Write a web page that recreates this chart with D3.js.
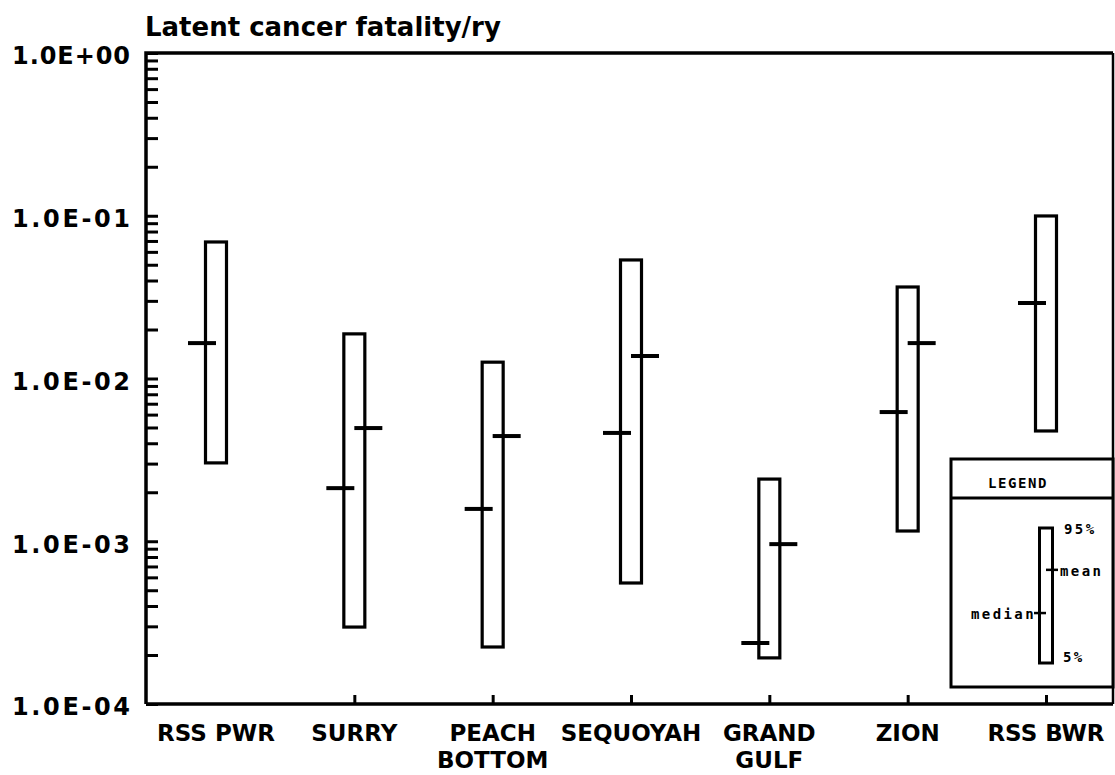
<!DOCTYPE html>
<html>
<head>
<meta charset="utf-8">
<script src="https://cdn.jsdelivr.net/npm/d3@7"></script>
<style>
  html, body { margin: 0; padding: 0; background: #fff; }
  svg { display: block; }
</style>
</head>
<body>
<svg id="chart" width="1115" height="775"></svg>
<script>
// ---- data ----
const categories = ["RSS PWR", "SURRY", "PEACH BOTTOM", "SEQUOYAH", "GRAND GULF", "ZION", "RSS BWR"];
const labelLines = [["RSS PWR"], ["SURRY"], ["PEACH", "BOTTOM"], ["SEQUOYAH"], ["GRAND", "GULF"], ["ZION"], ["RSS BWR"]];
const p95 = [0.069, 0.0188, 0.0126, 0.0535, 0.00241, 0.0365, 0.0997];
const p05 = [0.00303, 0.000297, 0.000224, 0.000554, 0.000192, 0.001156, 0.00476];
const medians = [0.0165, 0.00212, 0.00158, 0.00463, 0.000237, 0.00622, 0.0291];
const means = [null, 0.00496, 0.00443, 0.01375, 0.00096, 0.0165, null];
const majorTicks = [1e-4, 1e-3, 1e-2, 1e-1, 1];
const titleText = "Latent cancer fatality/ry";
const legendTitle = "LEGEND";
const legendLabels = { p95: "95%", mean: "mean", median: "median", p05: "5%" };
// legend sample values (relative positions along the sample bar)
const legendSample = { p95: 1.0, mean: 0.69, median: 0.37, p05: 0.0 };

// ---- layout ----
const svg = d3.select("#chart");
const mLeft = 146, mRight = 1113, mTop = 53, mBottom = 704;
const font = "'DejaVu Sans', sans-serif";
const mono = "'DejaVu Sans Mono', monospace";

const y = d3.scaleLog().domain([1e-4, 1]).range([mBottom, mTop]);
const x = d3.scalePoint().domain(categories).range([216, 1046]);

// minor + major ticks
const allTicks = [];
for (let e = -4; e < 0; e++) {
  for (let m = 1; m < 10; m++) allTicks.push(m * Math.pow(10, e));
}
allTicks.push(1);

function fmtE(v) {
  const e = Math.round(Math.log10(v));
  const sign = e >= 0 ? "+" : "-";
  return "1.0E" + sign + String(Math.abs(e)).padStart(2, "0");
}

// Y axis
const yAxis = d3.axisLeft(y)
  .tickValues(allTicks)
  .tickSize(-12)
  .tickSizeOuter(0)
  .tickPadding(16)
  .tickFormat(v => majorTicks.some(m => Math.abs(m - v) / m < 1e-6) ? fmtE(v) : "");
const gy = svg.append("g").attr("transform", `translate(${mLeft},0)`).call(yAxis);
gy.select(".domain").remove();
gy.selectAll(".tick line").attr("stroke", "#000").attr("stroke-width", 3);
gy.selectAll(".tick text")
  .attr("fill", "#000")
  .attr("font-family", font)
  .attr("font-weight", "bold")
  .attr("font-size", 24)
  .attr("dy", "0.45em")
  .each(function () { if (this.textContent) d3.select(this).attr("textLength", 118).attr("lengthAdjust", "spacing"); });

// X axis ticks (upward)
const xAxis = d3.axisBottom(x).tickSize(-9).tickSizeOuter(0).tickFormat("");
const gx = svg.append("g").attr("transform", `translate(0,${mBottom})`).call(xAxis);
gx.select(".domain").remove();
gx.selectAll(".tick line").attr("stroke", "#000").attr("stroke-width", 3);
gx.selectAll(".tick").filter((d, i) => i === 0).remove();

// frame
svg.append("path")
  .attr("d", `M${mLeft},${mBottom}V${mTop}H${mRight}`)
  .attr("fill", "none").attr("stroke", "#000").attr("stroke-width", 3.5);
svg.append("path")
  .attr("d", `M${mLeft},${mBottom}H${mRight}`)
  .attr("fill", "none").attr("stroke", "#000").attr("stroke-width", 3.5);
svg.append("path")
  .attr("d", `M${mRight},${mTop}V${mBottom}`)
  .attr("fill", "none").attr("stroke", "#000").attr("stroke-width", 2.5);

// title
svg.append("text")
  .attr("x", 145).attr("y", 36)
  .attr("font-family", font).attr("font-weight", "bold").attr("font-size", 26)
  .text(titleText);

// X labels
const xl = svg.append("g");
categories.forEach((c, i) => {
  const t = xl.append("text")
    .attr("x", x(c)).attr("y", 741)
    .attr("text-anchor", "middle")
    .attr("font-family", font).attr("font-weight", "bold").attr("font-size", 23);
  labelLines[i].forEach((ln, j) => {
    t.append("tspan").attr("x", x(c)).attr("dy", j === 0 ? 0 : 27).text(ln);
  });
});

// bars
const barW = 21, tickLen = 28;
const g = svg.append("g");
categories.forEach((c, i) => {
  const cx = x(c);
  g.append("rect")
    .attr("x", cx - barW / 2).attr("width", barW)
    .attr("y", y(p95[i])).attr("height", y(p05[i]) - y(p95[i]))
    .attr("fill", "none").attr("stroke", "#000").attr("stroke-width", 3.2);
  if (medians[i] != null) {
    g.append("line")
      .attr("x1", cx - tickLen).attr("x2", cx)
      .attr("y1", y(medians[i])).attr("y2", y(medians[i]))
      .attr("stroke", "#000").attr("stroke-width", 4);
  }
  if (means[i] != null) {
    g.append("line")
      .attr("x1", cx).attr("x2", cx + tickLen)
      .attr("y1", y(means[i])).attr("y2", y(means[i]))
      .attr("stroke", "#000").attr("stroke-width", 4);
  }
});

// legend
const lg = svg.append("g");
const lx0 = 951, ly0 = 459, lx1 = mRight, ly1 = 687, lhead = 498;
lg.append("rect").attr("x", lx0).attr("y", ly0).attr("width", lx1 - lx0).attr("height", ly1 - ly0)
  .attr("fill", "#fff").attr("stroke", "#000").attr("stroke-width", 3);
lg.append("line").attr("x1", lx0).attr("x2", lx1).attr("y1", lhead).attr("y2", lhead)
  .attr("stroke", "#000").attr("stroke-width", 3);
lg.append("text").attr("x", 1018).attr("y", 488)
  .attr("text-anchor", "middle").attr("font-family", mono).attr("font-weight", "bold").attr("font-size", 14)
  .attr("letter-spacing", 1.6)
  .text(legendTitle);
const ls = d3.scaleLinear().domain([0, 1]).range([663, 528]);
const lcx = 1046, lw = 13;
lg.append("rect").attr("x", lcx - lw / 2).attr("width", lw)
  .attr("y", ls(legendSample.p95)).attr("height", ls(legendSample.p05) - ls(legendSample.p95))
  .attr("fill", "none").attr("stroke", "#000").attr("stroke-width", 3);
lg.append("line").attr("x1", lcx).attr("x2", lcx + 12)
  .attr("y1", ls(legendSample.mean)).attr("y2", ls(legendSample.mean))
  .attr("stroke", "#000").attr("stroke-width", 2.5);
lg.append("line").attr("x1", lcx - 12).attr("x2", lcx)
  .attr("y1", ls(legendSample.median)).attr("y2", ls(legendSample.median))
  .attr("stroke", "#000").attr("stroke-width", 2.5);
const lt = (txt, xx, yy, anchor) => lg.append("text").attr("x", xx).attr("y", yy)
  .attr("text-anchor", anchor).attr("font-family", mono).attr("font-weight", "bold").attr("font-size", 14)
  .attr("letter-spacing", 2.4)
  .attr("dy", "0.35em").text(txt);
lt(legendLabels.p95, 1064, ls(legendSample.p95) + 1, "start");
lt(legendLabels.mean, 1060, ls(legendSample.mean) + 1, "start");
lt(legendLabels.median, 1036, ls(legendSample.median) + 1, "end");
lt(legendLabels.p05, 1063, ls(legendSample.p05) - 6, "start");
</script>
</body>
</html>
